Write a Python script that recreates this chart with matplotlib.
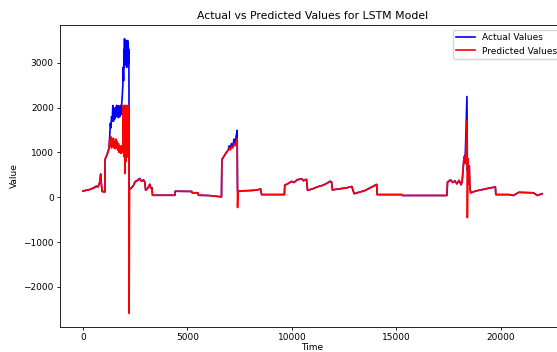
import matplotlib
matplotlib.use("Agg")
import matplotlib.pyplot as plt

# values (time index, actual, predicted)
time = [0, 300, 500, 650, 720, 800, 850, 880, 920, 1050, 1060, 1150, 1250,
        1280, 1310, 1340, 1370, 1400, 1430, 1460, 1490, 1520, 1550, 1580, 1610,
        1640, 1670, 1700, 1730, 1760, 1790, 1820, 1850, 1880, 1910,
        1930, 1945, 1960, 1975, 1990, 2005, 2020, 2035, 2050, 2065, 2080, 2095,
        2110, 2125, 2140, 2155, 2170, 2185, 2200, 2210, 2230,
        2400, 2500, 2600, 2720, 2800, 2900, 2960, 3000, 3100, 3200, 3250, 3300,
        3330, 4400, 4420, 5200, 5230, 5500, 5530, 6000, 6630,
        6650, 6870, 6950, 7000, 7050, 7110, 7170, 7230, 7280, 7330, 7380, 7400,
        7420, 8000, 8300, 8400, 8500, 8550, 9640, 9660, 9800, 9990, 10100, 10250,
        10470, 10550, 10700, 10750, 11000, 11270, 11500, 11700, 11830, 11900,
        11940, 12300, 12600, 12870, 12980, 13500, 14060, 14080, 15260, 15300,
        17420, 17450, 17600, 17700, 17800, 17900, 18000, 18100, 18150, 18240,
        18300, 18380, 18400, 18430, 18460, 18490, 18520, 18560, 18800, 19200,
        19500, 19740, 19760, 20400, 20600, 20860, 21560, 21750, 21975]

actual = [140, 170, 210, 250, 230, 330, 520, 300, 130, 120, 850, 950, 1100,
          1350, 1650, 1550, 1800, 1700, 2050, 1700, 1950, 1750, 2000, 1800, 2050,
          1800, 2050, 1780, 2000, 1800, 2050, 1850, 2050, 2250, 2500,
          2900, 2600, 3300, 2900, 3540, 3000, 3450, 2950, 3500, 3000, 3450, 2900,
          3400, 3000, 3500, 2950, 3350, 3000, 3300, 170, 170,
          250, 350, 380, 420, 360, 390, 340, 160, 200, 290, 200, 220,
          45, 45, 135, 130, 100, 100, 45, 40, 10,
          840, 1010, 1050, 1150, 1080, 1200, 1120, 1300, 1180, 1350, 1495, 140,
          140, 150, 160, 170, 190, 60, 60, 270, 300, 355, 330, 390,
          415, 370, 400, 155, 190, 240, 270, 320, 360, 340,
          165, 190, 210, 240, 80, 150, 290, 60, 60, 40,
          40, 340, 390, 330, 370, 300, 380, 280, 350, 900,
          950, 2250, 600, 860, 300, 700, 200, 100, 140, 180,
          210, 230, 60, 60, 40, 110, 100, 40, 80]

predicted = [140, 170, 200, 240, 230, 320, 500, 300, 130, 120, 850, 940, 1080,
             1300, 1150, 1350, 1100, 1300, 1150, 1320, 1100, 1250, 1080, 1300, 1100,
             1250, 1050, 1200, 1000, 1150, 1050, 980, 1150, 1000, 1200,
             2050, 1200, 2000, 900, 2050, 530, 2000, 1100, 2050, 800, 1900, 1200,
             2050, 900, 2000, 1000, 2050, 900, 1800, -2590, 170,
             250, 340, 370, 410, 360, 380, 340, 160, 200, 290, 200, 210,
             45, 45, 135, 130, 100, 100, 45, 40, 10,
             840, 1000, 1050, 1100, 1060, 1120, 1100, 1200, 1150, 1250, 1310, -230,
             140, 150, 160, 170, 190, 60, 60, 270, 300, 355, 330, 390,
             410, 370, 400, 155, 190, 240, 270, 320, 350, 340,
             165, 190, 210, 240, 80, 150, 280, 60, 60, 40,
             40, 340, 380, 330, 360, 300, 370, 280, 350, 900,
             750, 1720, -455, 860, 300, 700, 200, 100, 140, 180,
             210, 230, 60, 60, 40, 110, 100, 40, 80]

fig = plt.figure(figsize=(5.57, 3.52), dpi=100)
# the reference is a cropped screenshot: the right edge of the axes falls outside
ax = fig.add_axes([0.1077, 0.071, 0.9067, 0.858])

ax.plot(time, actual, color="blue", linewidth=1.2, label="Actual Values")
ax.plot(time, predicted, color="red", linewidth=1.2, label="Predicted Values")

ax.set_title("Actual vs Predicted Values for LSTM Model", fontsize=7.8, pad=4)
ax.set_xlabel("Time", fontsize=6.5, labelpad=0.5)
ax.set_ylabel("Value", fontsize=6.5, labelpad=3)
ax.tick_params(labelsize=6.5, length=2.5, width=0.6, pad=2)
for s in ax.spines.values():
    s.set_linewidth(0.6)
ax.legend(loc="upper right", fontsize=6.5)

fig.savefig("out.png", dpi=100)
